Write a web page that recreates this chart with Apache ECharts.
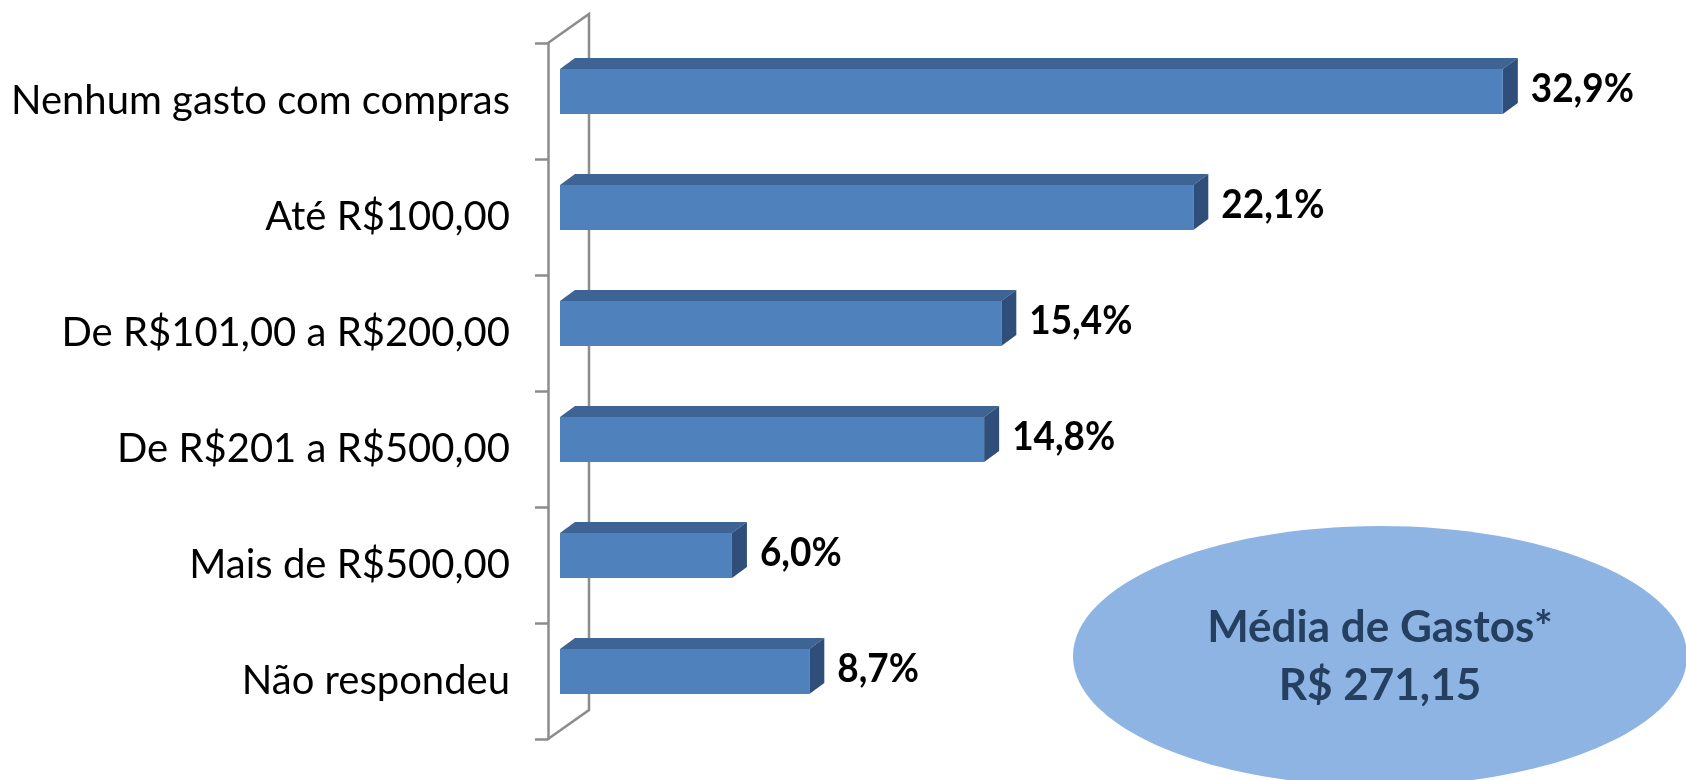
<!DOCTYPE html>
<html>
<head>
<meta charset="utf-8">
<script src="https://cdn.jsdelivr.net/npm/echarts@6/dist/echarts.min.js"></script>
<style>
html,body{margin:0;padding:0;background:#fff;}
#chart{width:1686px;height:780px;}
</style>
</head>
<body>
<div id="chart"></div>
<script>
const categories = ['Nenhum gasto com compras','Até R$100,00','De R$101,00 a R$200,00','De R$201 a R$500,00','Mais de R$500,00','Não respondeu'];
const values = [32.9, 22.1, 15.4, 14.8, 6.0, 8.7];
const valueLabels = ['32,9%','22,1%','15,4%','14,8%','6,0%','8,7%'];
const calloutLines = ['Média de Gastos*','R$ 271,15'];

const FONT = 'Lato, "Liberation Sans", sans-serif';
const chart = echarts.init(document.getElementById('chart'));

function renderBar(params, api) {
  const idx = api.value(1);
  const val = api.value(0);
  const p0 = api.coord([0, idx]);
  const p1 = api.coord([val, idx]);
  const band = api.size([0, 1])[1];
  const offX = 12, offY = -9.5;   // bar placed mid-depth
  const dx = 15, dy = -11;        // 3D depth of bar
  const h = band * 0.39;
  const x0 = p0[0] + offX, x1 = p1[0] + offX;
  const yc = p0[1] + offY;
  const yt = yc - h / 2, yb = yc + h / 2;
  return {
    type: 'group',
    children: [
      {type: 'polygon', shape: {points: [[x0, yt], [x1, yt], [x1 + dx, yt + dy], [x0 + dx, yt + dy]]}, style: {fill: '#3D6494'}},
      {type: 'polygon', shape: {points: [[x1, yt], [x1 + dx, yt + dy], [x1 + dx, yb + dy], [x1, yb]]}, style: {fill: '#2F4E79'}},
      {type: 'rect', shape: {x: x0, y: yt, width: x1 - x0, height: h}, style: {fill: '#4F81BD'}},
      {type: 'text', x: x1 + dx + 13, y: yc - 3, scaleX: 0.9, style: {text: valueLabels[params.dataIndex], font: 'bold 41px ' + FONT, fill: '#000', textVerticalAlign: 'middle', textAlign: 'left'}}
    ]
  };
}

function renderWall(params, api) {
  const n = categories.length;
  const band = api.size([0, 1])[1];
  const x0 = api.coord([0, 0])[0];
  const top = api.coord([0, 0])[1] - band / 2;
  const bottom = api.coord([0, n - 1])[1] + band / 2;
  const wx = 41, wy = -29;
  return {
    type: 'polyline',
    shape: {points: [[x0, top], [x0 + wx, top + wy], [x0 + wx, bottom + wy], [x0, bottom]]},
    style: {stroke: '#8C8C8C', lineWidth: 2.5, fill: null}
  };
}

const option = {
  animation: false,
  backgroundColor: '#fff',
  grid: {left: 548, top: 43, bottom: 41, right: 135, containLabel: false},
  xAxis: {type: 'value', min: 0, max: 35, show: false},
  yAxis: {
    type: 'category', data: categories, inverse: true,
    axisLine: {show: true, lineStyle: {color: '#8C8C8C', width: 2.5}},
    axisTick: {show: true, length: 13, lineStyle: {color: '#8C8C8C', width: 2.5}},
    axisLabel: {fontFamily: FONT, fontSize: 40, color: '#000', margin: 38},
    splitLine: {show: false}
  },
  graphic: [
    {type: 'ellipse', shape: {cx: 1380, cy: 656, rx: 307, ry: 130}, style: {fill: '#8EB4E3'}, z: 1},
    {type: 'text', x: 1380, y: 657, style: {text: calloutLines.join('\n'), font: 'bold 44px ' + FONT, fill: '#243F60', textAlign: 'center', textVerticalAlign: 'middle', lineHeight: 58}, z: 2}
  ],
  series: [
    {type: 'custom', renderItem: renderWall, data: [[0, 0]], z: 1, silent: true},
    {type: 'custom', renderItem: renderBar, data: values.map((v, i) => [v, i]), encode: {x: 0, y: 1}, z: 3}
  ]
};
chart.setOption(option);
</script>
</body>
</html>
